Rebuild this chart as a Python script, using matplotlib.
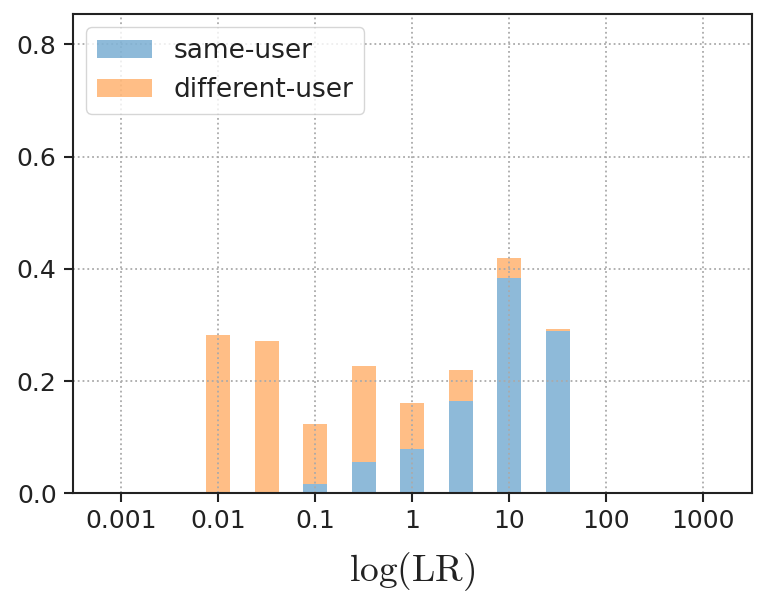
import matplotlib
matplotlib.use("Agg")
import matplotlib.pyplot as plt
import numpy as np

plt.rcParams["mathtext.fontset"] = "cm"

# bin centres in log10(LR), half-decade bins
log_centres = [-2.0, -1.5, -1.0, -0.5, 0.0, 0.5, 1.0, 1.5]
same_user = [0.0, 0.003, 0.017, 0.055, 0.079, 0.164, 0.383, 0.290]
diff_user = [0.282, 0.269, 0.106, 0.172, 0.082, 0.056, 0.037, 0.003]
xticks = [0.001, 0.01, 0.1, 1, 10, 100, 1000]
xticklabels = ["0.001", "0.01", "0.1", "1", "10", "100", "1000"]

c = np.array(log_centres)
left = 10 ** (c - 0.125)
width = 10 ** (c + 0.125) - left

fig = plt.figure(figsize=(7.57, 6.03), dpi=100)
ax = fig.add_axes([72.7 / 757, 1 - 493.3 / 603, (751.7 - 72.7) / 757, (493.3 - 14) / 603])

ax.bar(left, same_user, width=width, align="edge", color="tab:blue", alpha=0.5,
       label="same-user")
ax.bar(left, diff_user, width=width, bottom=same_user, align="edge", color="tab:orange",
       alpha=0.5, label="different-user")

ax.set_xscale("log")
ax.set_xlim(10 ** -3.5, 10 ** 3.5)
ax.set_ylim(0, 0.854)
ax.set_xticks(xticks)
ax.set_xticklabels(xticklabels)
ax.minorticks_off()
ax.set_yticks([0.0, 0.2, 0.4, 0.6, 0.8])
ax.tick_params(labelsize=18, length=6.5, width=1.5, colors="#222222", pad=5)
ax.grid(True, linestyle=":", color="#aaaaaa", linewidth=1.3)
for s in ax.spines.values():
    s.set_linewidth(1.5)
    s.set_color("#222222")
ax.set_xlabel(r"$\log(\mathrm{LR})$", fontsize=27, labelpad=12, color="#222222")
leg = ax.legend(loc="upper left", fontsize=19, handlelength=2.1,
                bbox_to_anchor=(0.02, 0.972), borderaxespad=0.0)
for t in leg.get_texts():
    t.set_color("#222222")

fig.savefig("out.png", dpi=100)
